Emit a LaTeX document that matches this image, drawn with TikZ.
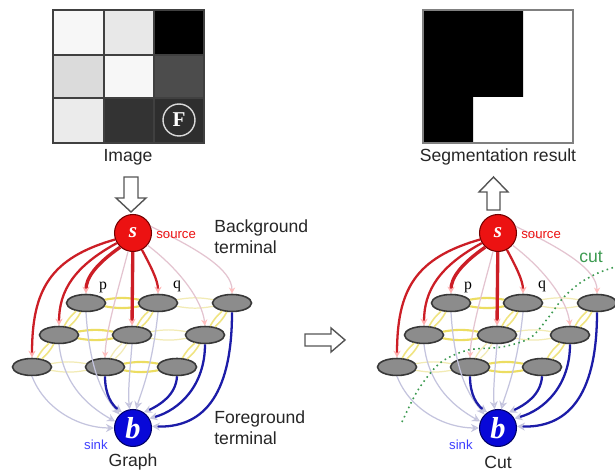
\documentclass[tikz,border=0pt]{standalone}
\usepackage{fontspec}
\setmainfont{Liberation Sans}
\newfontfamily\seriffont{Liberation Serif}
\usetikzlibrary{arrows.meta,shapes.geometric}
\definecolor{sred}{HTML}{EC1212}
\definecolor{tred}{HTML}{CC1E26}
\definecolor{tblue}{HTML}{1C1CA8}
\definecolor{bblue}{HTML}{0808D8}
\definecolor{thinpink}{HTML}{E4C4D0}
\definecolor{thinlav}{HTML}{C4C4DE}
\definecolor{ylw}{HTML}{ECDD62}
\definecolor{ylwfaint}{HTML}{F2EBB4}
\definecolor{cutgreen}{HTML}{3C9A50}
\definecolor{arrowgray}{HTML}{555555}
\tikzset{
  pixnode/.style={ellipse, draw=black!78, fill=black!45, line width=0.9pt,
    minimum width=0.78cm, minimum height=0.34cm, inner sep=0pt},
  srcnode/.style={circle, draw=red!45!black, fill=sred, line width=0.6pt,
    minimum size=0.74cm, inner sep=0pt, text=white, font=\seriffont\bfseries\itshape\large},
  snknode/.style={circle, draw=blue!40!black, fill=bblue, line width=0.6pt,
    minimum size=0.74cm, inner sep=0pt, text=white, font=\seriffont\bfseries\itshape\LARGE},
  redlink/.style={draw=tred, line width=1.3pt,
    -{Stealth[length=4pt,width=4pt,color=red!30]}},
  redthick/.style={redlink, line width=1.9pt},
  thinS/.style={draw=thinpink, line width=0.7pt,
    -{Stealth[length=3.5pt,width=3.5pt,color=red!25]}},
  bluelink/.style={draw=tblue, line width=1.3pt,
    -{Stealth[length=4.5pt,width=4.5pt,open,color=thinlav]}},
  thinB/.style={draw=thinlav, line width=0.7pt,
    -{Stealth[length=4.5pt,width=4.5pt,open,color=thinlav]}},
  nstrong/.style={draw=ylw, line width=1.2pt},
  nweak/.style={draw=ylwfaint, line width=0.7pt},
  nmid/.style={draw=ylw!80!white, line width=0.9pt},
  bigtext/.style={font=\fontsize{10}{12}\selectfont, text=black!85, inner sep=0pt},
  smalltext/.style={font=\fontsize{7.5}{9}\selectfont, inner sep=0pt},
  plabel/.style={font=\seriffont\fontsize{9}{10}\selectfont, inner sep=0pt},
  blockarrow/.style={draw=arrowgray, line width=0.8pt, fill=white, line join=miter},
  cutline/.style={draw=cutgreen, line width=0.9pt, dotted},
}
\begin{document}
\begin{tikzpicture}[x=0.02cm,y=-0.02cm]
\useasboundingbox (0,0) rectangle (615,475);
\fill[white] (0,0) rectangle (615,475);

% ---------- input image ----------
\fill[black!3]  (53,10) rectangle (104,55);
\fill[black!9]  (104,10) rectangle (154,55);
\fill[black]    (154,10) rectangle (204,55);
\fill[black!14] (53,55) rectangle (104,98);
\fill[black!3]  (104,55) rectangle (154,98);
\fill[black!70] (154,55) rectangle (204,98);
\fill[black!8]  (53,98) rectangle (104,143);
\fill[black!80] (104,98) rectangle (154,143);
\fill[black!82] (154,98) rectangle (204,143);
\draw[black!75, line width=0.9pt] (53,10) rectangle (204,143);
\draw[black!75, line width=0.9pt] (104,10) -- (104,143) (154,10) -- (154,143)
  (53,55) -- (204,55) (53,98) -- (204,98);
\node[circle, draw=white!85!black, line width=0.8pt, minimum size=0.64cm, inner sep=0pt,
  text=white, font=\seriffont\bfseries\large] (F) at (179,120) {F};
\node[bigtext] (imglabel) at (128,157) {Image};

% ---------- segmentation result ----------
\fill[black] (423,10) -- (523,10) -- (523,97) -- (473,97) -- (473,143) -- (423,143) -- cycle;
\draw[black!50, line width=0.8pt] (423,10) rectangle (573,143);
\node[bigtext] (seglabel) at (498,157) {Segmentation result};

% ---------- block arrows ----------
\draw[blockarrow] (124,177) -- (138,177) -- (138,198) -- (146,198) -- (131,212)
  -- (116,198) -- (124,198) -- cycle;
\draw[blockarrow] (493.5,177) -- (508,192) -- (500,192) -- (500,210) -- (487,210)
  -- (487,192) -- (479,192) -- cycle;
\draw[blockarrow] (305,334) -- (331,334) -- (331,328) -- (345,340) -- (331,352)
  -- (331,346) -- (305,346) -- cycle;

% ---------- the two graphs ----------
\foreach \gp/\dx in {L/0,R/365}{
\begin{scope}[shift={(\dx,0)}]
  \node[srcnode] (\gp s) at (133,233) {s};
  \node[snknode] (\gp b) at (133,428) {b};
  \node[pixnode] (\gp11) at (86,303) {};
  \node[pixnode] (\gp12) at (158,303) {};
  \node[pixnode] (\gp13) at (232,303) {};
  \node[pixnode] (\gp21) at (59,335) {};
  \node[pixnode] (\gp22) at (132,335) {};
  \node[pixnode] (\gp23) at (205,335) {};
  \node[pixnode] (\gp31) at (32,367) {};
  \node[pixnode] (\gp32) at (105,367) {};
  \node[pixnode] (\gp33) at (177,367) {};
  % n-links
  \foreach \a/\b/\st in {11/12/nstrong,12/13/nweak,21/22/nstrong,22/23/nweak,
      31/32/nweak,32/33/nstrong,21/11/nmid,31/21/nmid,22/12/nmid,32/22/nweak,
      23/13/nmid,33/23/nmid}{
    \draw[\st] (\gp\a) to[bend left=10] (\gp\b);
    \draw[\st] (\gp\b) to[bend left=10] (\gp\a);
  }
  % thin t-links to sink
  \draw[thinB] (\gp31.south) .. controls (45,410) and (80,428) .. (\gp b.180);
  \draw[thinB] (\gp21.south) .. controls (64,390) and (95,410) .. (\gp b.160);
  \draw[thinB] (\gp11.south) .. controls (90,380) and (108,400) .. (\gp b.135);
  \draw[thinB] (\gp22.south) .. controls (129,380) and (128,395) .. (\gp b.100);
  \draw[thinB] (\gp12.south) .. controls (152,370) and (140,395) .. (\gp b.80);
  % thin t-links from source
  \draw[thinS] (\gp s.20) .. controls (200,250) and (232,270) .. (\gp13.north);
  \draw[thinS] (\gp s.-40) .. controls (180,270) and (202,300) .. (\gp23.north);
  \draw[thinS] (\gp s.-105) .. controls (118,290) and (106,330) .. (\gp32.north);
  % strong source links
  \draw[redlink] (\gp s.200) .. controls (50,258) and (32,290) .. (\gp31.north);
  \draw[redlink] (\gp s.212) .. controls (75,266) and (59,290) .. (\gp21.north);
  \draw[redthick] (\gp s.228) .. controls (96,264) and (86,278) .. (\gp11.north);
  \draw[redthick] (\gp s) -- (\gp22.north);
  \draw[redlink] (\gp s.-62) .. controls (150,265) and (158,280) .. (\gp12.north);
  % strong sink links
  \draw[bluelink] (\gp32.south) .. controls (105,395) and (112,405) .. (\gp b.125);
  \draw[bluelink] (\gp33.south) .. controls (176,395) and (160,405) .. (\gp b.55);
  \draw[bluelink] (\gp23.south) .. controls (205,385) and (180,410) .. (\gp b.30);
  \draw[bluelink] (\gp13.south) .. controls (232,400) and (200,428) .. (\gp b.5);
  % labels
  \node[smalltext, text=sred, anchor=west] (\gp src) at (156,235) {source};
  \node[smalltext, text=blue!75!white, anchor=east] (\gp snk) at (108,445) {sink};
  \node[plabel] (\gp p) at (103,287) {p};
  \node[plabel] (\gp q) at (177,286) {q};
\end{scope}
}

\node[bigtext, anchor=north west, align=left] (bgt) at (214,219) {Background\\terminal};
\node[bigtext, anchor=north west, align=left] (fgt) at (214,410) {Foreground\\terminal};
\node[bigtext] (graphlabel) at (133,462) {Graph};
\node[bigtext] (cutlabel) at (498,462) {Cut};

% cut curve
\draw[cutline] plot[smooth] coordinates {(402,422) (418,390) (440,363) (468,350)
  (502,347) (530,338) (548,318) (563,298) (580,283) (598,273) (615,267)};
\node[font=\fontsize{10}{12}\selectfont, text=cutgreen, inner sep=0pt] (cuttext) at (591,257) {cut};
\end{tikzpicture}
\end{document}
